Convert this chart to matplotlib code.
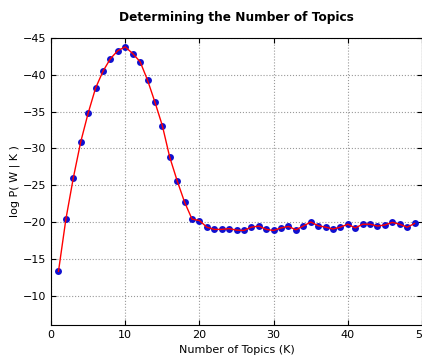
import numpy as np
import matplotlib
matplotlib.use('Agg')
import matplotlib.pyplot as plt

# number of topics vs log likelihood
topics = list(range(1, 50))
log_p = [-13.3, -20.4, -26.0, -30.9, -34.8, -38.2, -40.5, -42.2, -43.3, -43.8,
         -42.9, -41.8, -39.3, -36.3, -33.1, -28.8, -25.6, -22.7, -20.4, -20.2,
         -19.3, -19.0, -19.0, -19.1, -18.9, -18.85, -19.3, -19.45, -19.0, -18.85,
         -19.2, -19.4, -18.95, -19.45, -20.0, -19.5, -19.3, -19.05, -19.3, -19.7,
         -19.2, -19.7, -19.7, -19.45, -19.6, -19.95, -19.7, -19.3, -19.8]

fig = plt.figure(figsize=(4.22, 3.56), dpi=100)
ax = fig.add_axes([0.121, 0.087, 0.879, 0.806])

ax.plot(topics, log_p, 'o', color='#1010d0', markersize=5, markeredgewidth=0)
ax.plot(topics, log_p, 'r-', linewidth=1)

ax.set_xlim(0, 50)
ax.set_ylim(-6, -45)
ax.set_xticks([0, 10, 20, 30, 40, 50])
ax.set_yticks([-10, -15, -20, -25, -30, -35, -40, -45])
ax.tick_params(direction='in', labelsize=8, top=True, right=True)
ax.grid(True, color='#999999', linestyle=':', linewidth=0.8)

ax.set_xlabel('Number of Topics (K)', fontsize=8)
ax.set_ylabel('log P( W | K )', fontsize=8, labelpad=2)
ax.set_title('Determining the Number of Topics', fontsize=8.7, fontweight='bold', pad=12)

plt.savefig('out.png', dpi=100)
